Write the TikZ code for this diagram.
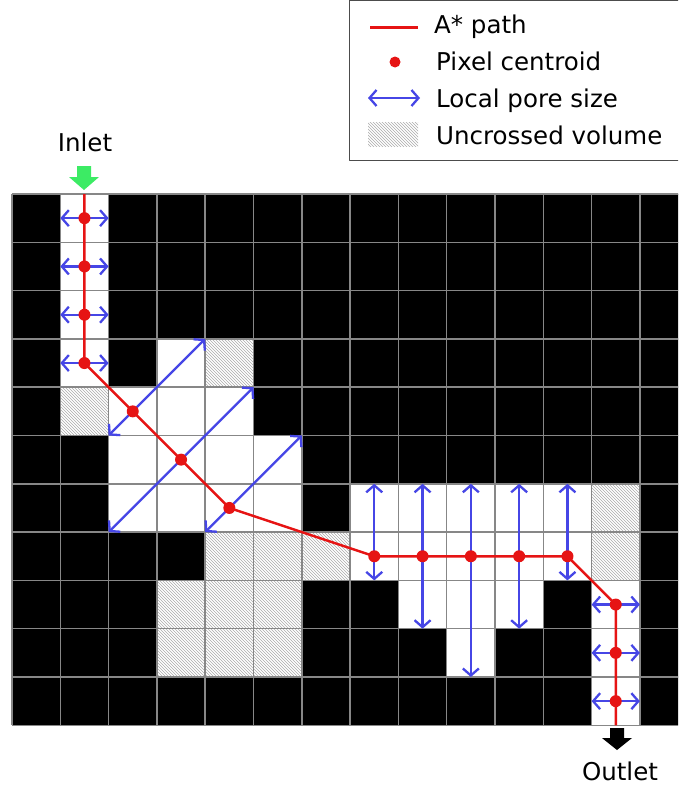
\documentclass[tikz,border=0pt]{standalone}
\usepackage{fontspec}
\setmainfont{DejaVu Sans}
\usetikzlibrary{arrows.meta,patterns}

\definecolor{pathred}{RGB}{230,20,20}
\definecolor{poreblue}{RGB}{70,70,230}
\definecolor{inletgreen}{RGB}{60,235,100}
\definecolor{cellgray}{RGB}{135,135,135}

\tikzset{
  apath/.style={draw=pathred,line width=2.5pt},
  pore/.style={draw=poreblue,line width=2.3pt,{Straight Barb[length=7pt,width=16pt]}-{Straight Barb[length=7pt,width=16pt]}},
  uncrossed/.style={pattern=north west lines,pattern color=gray!65},
  cellline/.style={draw=cellgray,line width=1.5pt},
  lbl/.style={inner sep=0pt,font=\fontsize{24.5}{29}\selectfont},
}

\begin{document}
\begin{tikzpicture}[x=1pt,y=-1pt,line join=round]
  \useasboundingbox (0,0) rectangle (678,790);
  \clip (0,0) rectangle (678,790);
  \begin{scope}[shift={(12,194)},x=48.3pt,y=-48.3pt]
    \fill[black] (0,0) rectangle (14,11);
    \foreach \c/\r in {1/0,1/1,1/2,1/3,3/3,2/4,3/4,4/4,2/5,3/5,4/5,5/5,
        2/6,3/6,4/6,5/6,7/6,8/6,9/6,10/6,11/6,7/7,8/7,9/7,10/7,11/7,
        8/8,9/8,10/8,12/8,9/9,12/9,12/10}
      \fill[white] (\c,\r) rectangle ++(1,1);
    \foreach \c/\r in {4/3,1/4,12/6,4/7,5/7,6/7,12/7,3/8,4/8,5/8,3/9,4/9,5/9}{
      \fill[white] (\c,\r) rectangle ++(1,1);
      \fill[uncrossed] (\c,\r) rectangle ++(1,1);
    }
    \foreach \c in {0,...,14} \draw[cellline] (\c,0) -- (\c,11);
    \foreach \r in {0,...,11} \draw[cellline] (0,\r) -- (14,\r);

    \foreach \r in {0,...,3} \draw[pore] (1,\r+.5) -- (2,\r+.5);
    \foreach \r in {8,9,10} \draw[pore] (12,\r+.5) -- (13,\r+.5);
    \foreach \xa/\ya/\xb/\yb in {2/5/4/3,2/7/5/4,4/7/6/5}
      \draw[pore] (\xa,\ya) -- (\xb,\yb);
    \foreach \c/\rb in {7/8,8/9,9/10,10/9,11/8}
      \draw[pore] (\c+.5,6) -- (\c+.5,\rb);

    \coordinate (inlet) at (1.5,0);
    \coordinate (outlet) at (12.5,11);
    \foreach \c/\r [count=\i] in {1/0,1/1,1/2,1/3,2/4,3/5,4/6,7/7,8/7,9/7,10/7,11/7,12/8,12/9,12/10}
      \coordinate (p\i) at (\c+.5,\r+.5);
    \draw[apath] (inlet) \foreach \i in {1,...,15}{-- (p\i)} -- (outlet);
    \foreach \i in {1,...,15} \fill[pathred] (p\i) circle (6pt);
  \end{scope}

  \fill[inletgreen] (77,166) -- (91,166) -- (91,177) -- (99,177) -- (84,190) -- (69,177) -- (77,177) -- cycle;
  \node[lbl,anchor=base] (inletlbl) at (85,151) {Inlet};
  \fill[black] (610,728) -- (624,728) -- (624,738) -- (632,738) -- (617,750) -- (602,738) -- (610,738) -- cycle;
  \node[lbl,anchor=base] (outletlbl) at (620,780) {Outlet};

  \fill[white] (349,0.5) rectangle (700,160);
  \draw[gray!60!black,line width=1pt] (349,0.5) rectangle (700,160);
  \draw[apath,line width=3pt] (370,27) -- (418,27);
  \fill[pathred] (395,62) circle (5.5pt);
  \draw[pore] (368,98) -- (420,98);
  \fill[uncrossed] (368,122) rectangle (418,146);
  \node[lbl,anchor=base west] (leg1) at (434,33) {A* path};
  \node[lbl,anchor=base west] (leg2) at (436,70) {Pixel centroid};
  \node[lbl,anchor=base west] (leg3) at (436,107) {Local pore size};
  \node[lbl,anchor=base west] (leg4) at (436,144) {Uncrossed volume};
\end{tikzpicture}
\end{document}
